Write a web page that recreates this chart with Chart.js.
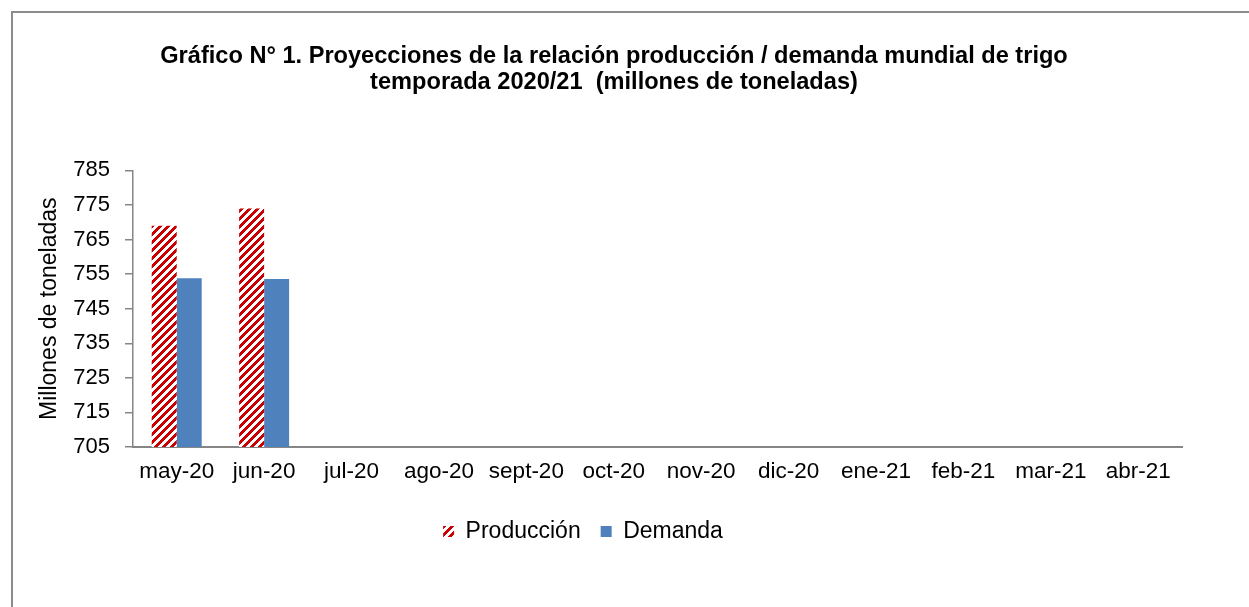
<!DOCTYPE html>
<html lang="es">
<head>
    <meta charset="UTF-8">
    <title>Producción / demanda mundial de trigo</title>
    <script src="https://cdn.jsdelivr.net/npm/chart.js"></script>
    <style>
        html, body {
            margin: 0;
            padding: 0;
            background-color: #ffffff;
            overflow: hidden;
        }
        .frame {
            position: absolute;
            left: 11px;
            top: 11px;
            width: 1300px;
            height: 700px;
            border-left: 2px solid #8c8c8c;
            border-top: 2px solid #8c8c8c;
        }
        .chart-box {
            position: absolute;
            left: 0;
            top: 0;
            width: 1249px;
            height: 607px;
        }
    </style>
</head>
<body>
    <div class="frame"></div>
    <div class="chart-box">
        <canvas id="wheatChart" width="1249" height="607"></canvas>
    </div>
    <script>
        const months = ['may-20', 'jun-20', 'jul-20', 'ago-20', 'sept-20', 'oct-20',
                        'nov-20', 'dic-20', 'ene-21', 'feb-21', 'mar-21', 'abr-21'];
        const produccion = [769.0, 774.0, null, null, null, null, null, null, null, null, null, null];
        const demanda = [753.8, 753.6, null, null, null, null, null, null, null, null, null, null];
        const yTicks = [705, 715, 725, 735, 745, 755, 765, 775, 785];

        const font = "'Liberation Sans', Arial, sans-serif";
        const axisGray = '#868686';

        // red "wide upward diagonal" fill like the Excel pattern
        function stripePattern() {
            const tile = document.createElement('canvas');
            tile.width = 8;
            tile.height = 8;
            const tctx = tile.getContext('2d');
            tctx.fillStyle = '#ffffff';
            tctx.fillRect(0, 0, 8, 8);
            tctx.fillStyle = '#cc0000';
            for (let x = 0; x < 8; x++) {
                for (let y = 0; y < 8; y++) {
                    if ((x + y) % 8 < 4) tctx.fillRect(x, y, 1, 1);
                }
            }
            return document.getElementById('wheatChart').getContext('2d').createPattern(tile, 'repeat');
        }
        const redStripes = stripePattern();

        // move the legend a bit left, as in the original sheet
        const legendShift = {
            id: 'legendShift',
            afterLayout(chart) {
                chart.legend.left -= 31;
                chart.legend.right -= 31;
            }
        };

        const ctx = document.getElementById('wheatChart').getContext('2d');
        const chart = new Chart(ctx, {
            type: 'bar',
            data: {
                labels: months,
                datasets: [{
                    label: 'Producción',
                    data: produccion,
                    backgroundColor: redStripes,
                    borderWidth: 0,
                    yAxisID: 'y'
                }, {
                    label: 'Demanda',
                    data: demanda,
                    backgroundColor: '#4f81bd',
                    borderWidth: 0,
                    yAxisID: 'y'
                }]
            },
            options: {
                responsive: false,
                animation: false,
                layout: { padding: { left: 0, right: 21, top: 0, bottom: 54 } },
                datasets: {
                    bar: { categoryPercentage: 0.572, barPercentage: 1 }
                },
                scales: {
                    x: {
                        grid: { display: false, drawTicks: false },
                        border: { color: axisGray, width: 2 },
                        ticks: {
                            color: '#000000',
                            font: { family: font, size: 22.5 },
                            padding: 11,
                            maxRotation: 0,
                            autoSkip: false
                        },
                        afterFit(scale) { scale.height = 53; }
                    },
                    y: {
                        min: 705,
                        max: 785,
                        afterBuildTicks(scale) {
                            scale.ticks = yTicks.map(v => ({ value: v }));
                        },
                        grid: {
                            drawOnChartArea: false,
                            drawTicks: true,
                            tickLength: 8,
                            color: axisGray,
                            lineWidth: 1.5
                        },
                        border: { color: axisGray, width: 1.5 },
                        ticks: {
                            color: '#000000',
                            font: { family: font, size: 22 },
                            padding: 15
                        },
                        title: {
                            display: true,
                            text: 'Millones de toneladas',
                            color: '#000000',
                            font: { family: font, size: 23 },
                            padding: { top: 36, bottom: 0 }
                        },
                        afterFit(scale) { scale.width = 133; }
                    },
                    yRight: {
                        position: 'right',
                        display: true,
                        grid: { display: false, drawTicks: false },
                        border: { display: false },
                        ticks: { display: false },
                        afterFit(scale) { scale.width = 46; }
                    }
                },
                plugins: {
                    title: {
                        display: true,
                        text: ['Gráfico N° 1. Proyecciones de la relación producción / demanda mundial de trigo',
                               'temporada 2020/21  (millones de toneladas)'],
                        color: '#000000',
                        font: { family: font, size: 23.6, weight: 'bold', lineHeight: 1.1 },
                        padding: { top: 43.5, bottom: 75 }
                    },
                    legend: {
                        position: 'bottom',
                        labels: {
                            color: '#000000',
                            font: { family: font, size: 23 },
                            boxWidth: 11,
                            boxHeight: 11,
                            padding: 20
                        }
                    },
                    tooltip: { enabled: false }
                }
            },
            plugins: [legendShift]
        });
    </script>
</body>
</html>
